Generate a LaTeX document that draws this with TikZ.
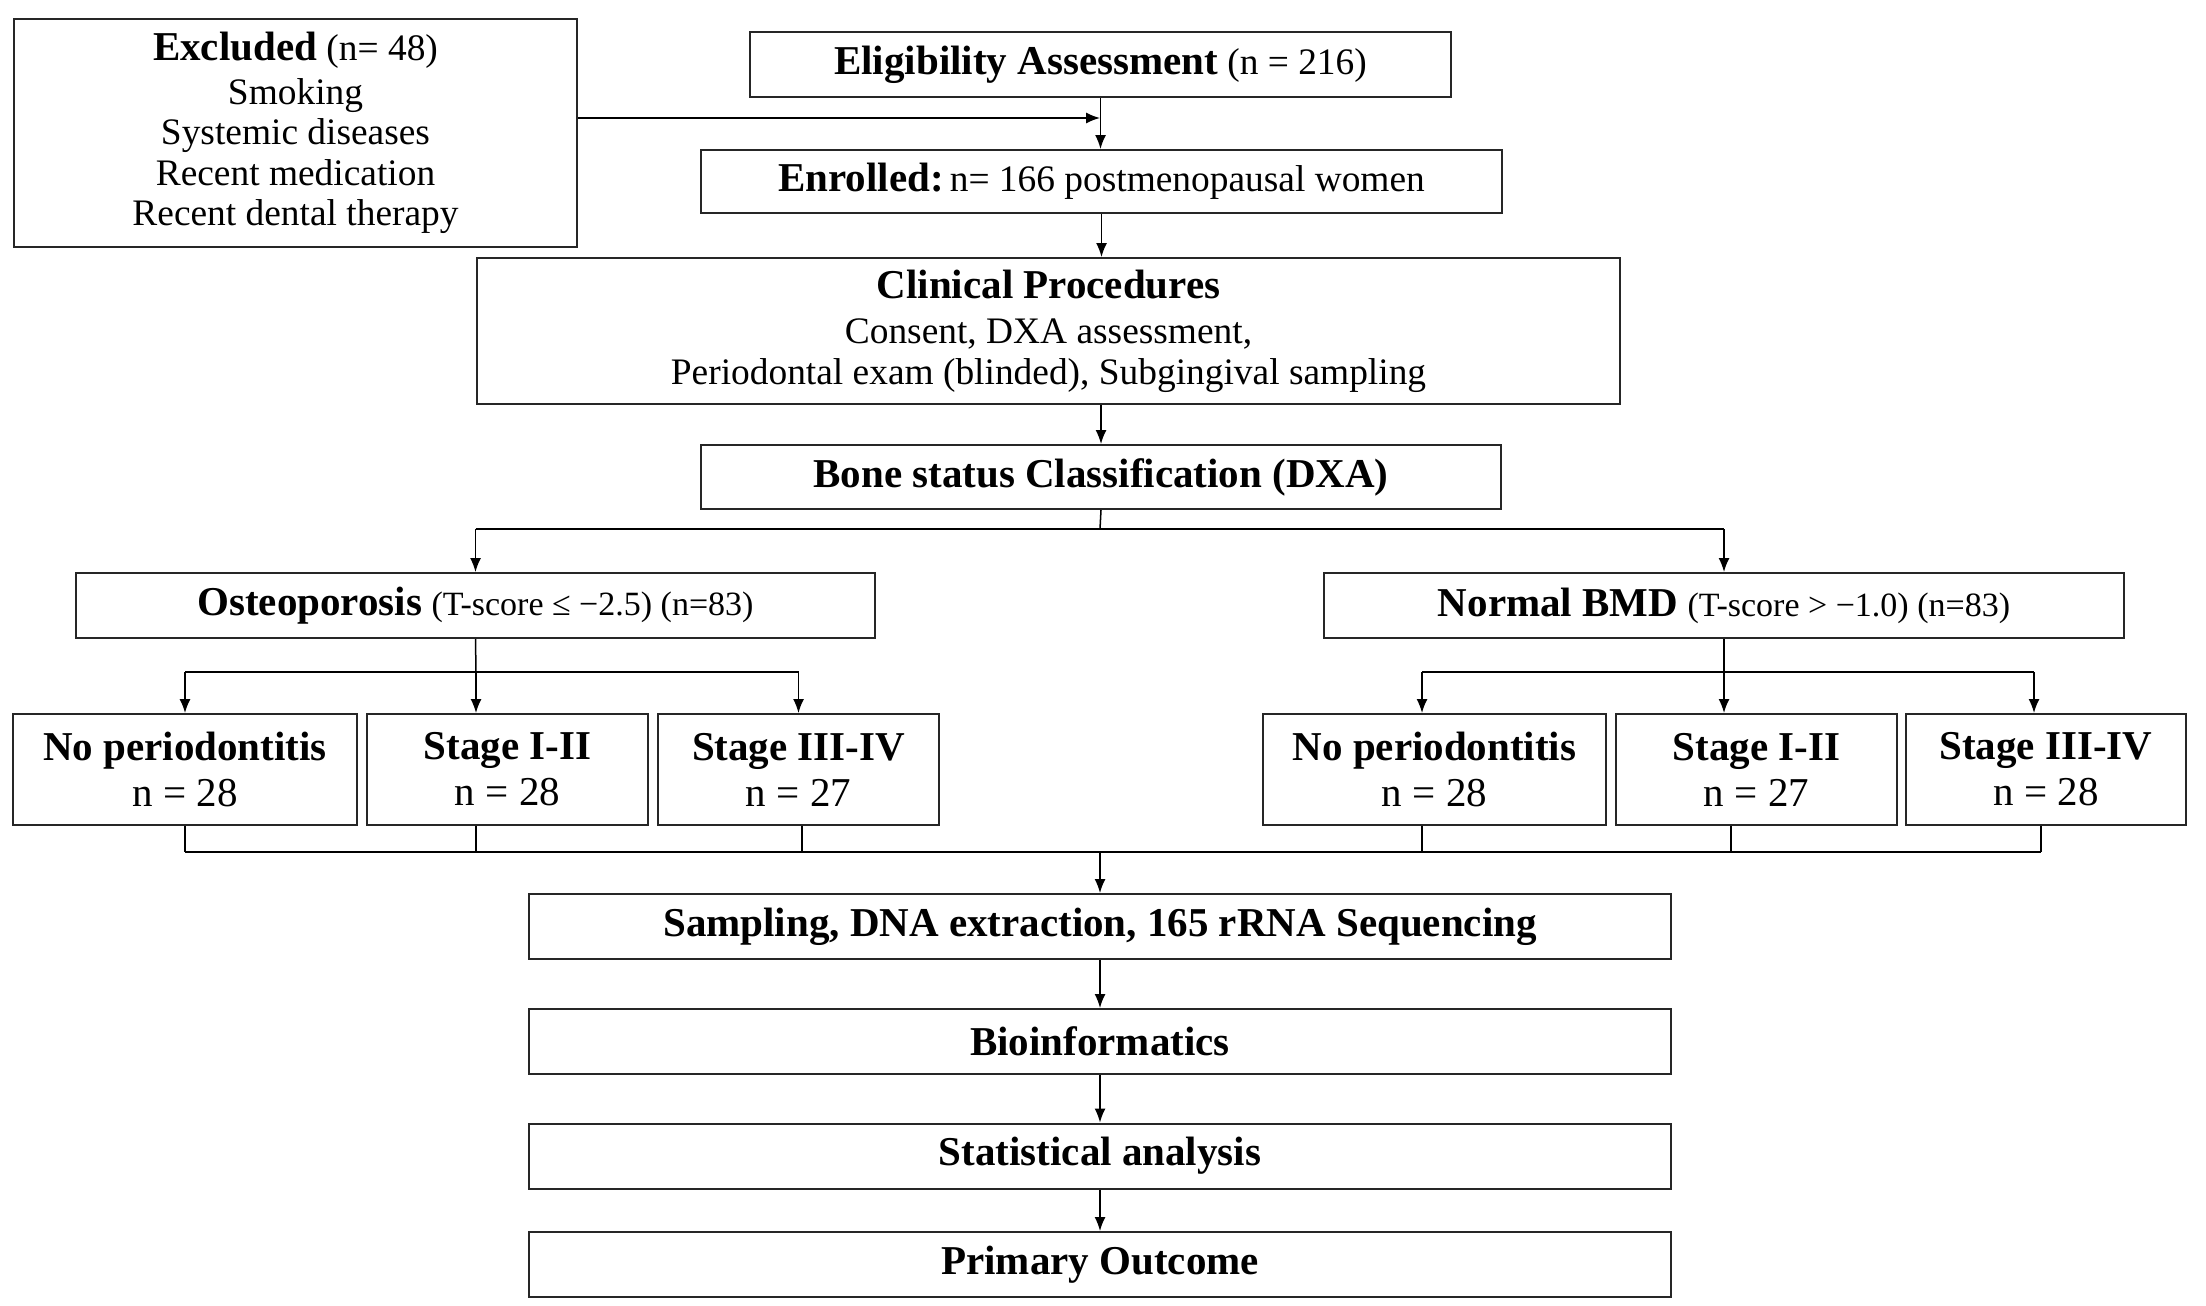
\documentclass[tikz,border=0pt]{standalone}
\usepackage{fontspec}
\setmainfont{Liberation Serif}
\usetikzlibrary{arrows.meta}
\newcommand{\bigfont}{\fontsize{20.5}{23}\selectfont}
\newcommand{\regfont}{\fontsize{18.7}{20.3}\selectfont}
\newcommand{\smallfont}{\fontsize{17}{20}\selectfont}
\tikzset{
	box/.style={draw=black!85, line width=1pt, rectangle, align=center, inner sep=0pt, font=\regfont},
	conn/.style={line width=0.75pt},
	arr/.style={conn, -{Latex[length=7pt,width=5.5pt]}},
	branch/.style={line width=1.1pt},
}

\begin{document}
\begin{tikzpicture}[x=0.5pt, y=-0.5pt]
			%%%%% START %%%%%
			\useasboundingbox (0,0) rectangle (2206,1306);
			
			\node[box, minimum width=281.5pt, minimum height=114pt] (excl) at (295.5,133) {{\bigfont\bfseries Excluded} (n= 48)\\[1.5pt]Smoking\\Systemic diseases\\Recent medication\\Recent dental therapy};
			\node[box, minimum width=350.5pt, minimum height=32.5pt] (elig) at (1100.5,64.5) {{\bigfont\bfseries Eligibility Assessment} (n = 216)};
			\node[box, minimum width=400.5pt, minimum height=31.5pt] (enrol) at (1101.5,181.5) {{\bigfont\bfseries Enrolled:}\,n= 166 postmenopausal women};
			\node[box, minimum width=571.5pt, minimum height=73pt] (clin) at (1048.5,331) {{\bigfont\bfseries Clinical Procedures}\\[2.5pt]Consent, DXA assessment,\\Periodontal exam (blinded), Subgingival sampling};
			\node[box, minimum width=400pt, minimum height=32pt, font=\bigfont\bfseries] (bone) at (1101,477) {Bone status Classification (DXA)};
			
			\node[box, minimum width=399.5pt, minimum height=32.5pt] (osteo) at (475.5,605.5) {{\bigfont\bfseries Osteoporosis} {\smallfont(T-score ≤ −2.5) (n=83)}};
			\node[box, minimum width=400pt, minimum height=32.5pt] (normal) at (1724,605.5) {{\bigfont\bfseries Normal BMD} {\smallfont(T-score > −1.0) (n=83)}};
			
			\node[box, minimum width=172pt, minimum height=55.5pt, font=\bigfont] (o1) at (185,769.5) {\textbf{No periodontitis}\\n = 28};
			\node[box, minimum width=140.5pt, minimum height=55.5pt, font=\bigfont] (o2) at (507.5,769.5) {\textbf{Stage I-II}\\n = 28};
			\node[box, minimum width=140.5pt, minimum height=55.5pt, font=\bigfont] (o3) at (798.5,769.5) {\textbf{Stage III-IV}\\n = 27};
			\node[box, minimum width=171.5pt, minimum height=55.5pt, font=\bigfont] (n1) at (1434.5,769.5) {\textbf{No periodontitis}\\n = 28};
			\node[box, minimum width=140.5pt, minimum height=55.5pt, font=\bigfont] (n2) at (1756.5,769.5) {\textbf{Stage I-II}\\n = 27};
			\node[box, minimum width=140pt, minimum height=55.5pt, font=\bigfont] (n3) at (2046,769.5) {\textbf{Stage III-IV}\\n = 28};
			
			\node[box, minimum width=571pt, minimum height=32.5pt, font=\bigfont\bfseries] (seq) at (1100,926.5) {Sampling, DNA extraction, 165 rRNA Sequencing};
			\node[box, minimum width=571pt, minimum height=32.5pt, font=\bigfont\bfseries] (bio) at (1100,1041.5) {Bioinformatics};
			\node[box, minimum width=571pt, minimum height=32.5pt, font=\bigfont\bfseries] (stat) at (1100,1156) {Statistical analysis};
			\node[box, minimum width=571pt, minimum height=32.5pt, font=\bigfont\bfseries] (prim) at (1100,1264.5) {Primary Outcome};
			
			\coordinate (exjoin) at (1100,118);
			\coordinate (bonesplit) at (1100,529);
			\coordinate (ossplit) at (476,672);
			\coordinate (nmsplit) at (1724,672);
			\coordinate (merge) at (1101,852);
			
			\draw[arr] (elig.south) -- (elig.south |- enrol.north);
			\draw[arr] (excl.east |- exjoin) -- (exjoin);
			\draw[arr] (enrol.south) -- (enrol.south |- clin.north);
			\draw[arr] (bone.north |- clin.south) -- (bone.north);
			
			\draw[conn] (bone.south) -- (bonesplit);
			\draw[branch] (osteo.north |- bonesplit) -- (normal.north |- bonesplit);
			\draw[arr] (osteo.north |- bonesplit) -- (osteo.north);
			\draw[arr] (normal.north |- bonesplit) -- (normal.north);
			
			\draw[conn] (osteo.south) -- (ossplit);
			\draw[branch] (o1.north |- ossplit) -- (o3.north |- ossplit);
			\draw[arr] (o1.north |- ossplit) -- (o1.north);
			\draw[arr] (ossplit) -- (ossplit |- o2.north);
			\draw[arr] (o3.north |- ossplit) -- (o3.north);
			
			\draw[conn] (normal.south) -- (nmsplit);
			\draw[conn] ([xshift=-6.25pt]n1.north |- nmsplit) -- ([xshift=-6pt]n3.north |- nmsplit);
			\draw[arr] ([xshift=-6.25pt]n1.north |- nmsplit) -- ([xshift=-6.25pt]n1.north);
			\draw[arr] (nmsplit) -- (nmsplit |- n2.north);
			\draw[arr] ([xshift=-6pt]n3.north |- nmsplit) -- ([xshift=-6pt]n3.north);
			
			\draw[conn] (o1.south) -- (o1.south |- merge);
			\draw[conn] (ossplit |- o2.south) -- (ossplit |- merge);
			\draw[conn] ([xshift=1.75pt]o3.south) -- ([xshift=1.75pt]o3.south |- merge);
			\draw[conn] ([xshift=-6.25pt]n1.south) -- ([xshift=-6.25pt]n1.south |- merge);
			\draw[conn] ([xshift=3.5pt]nmsplit |- n2.south) -- ([xshift=3.5pt]nmsplit |- merge);
			\draw[conn] ([xshift=-2.5pt]n3.south) -- ([xshift=-2.5pt]n3.south |- merge);
			\draw[branch] (o1.south |- merge) -- ([xshift=-2.5pt]n3.south |- merge);
			
			\draw[arr] (seq.north |- merge) -- (seq.north);
			\draw[arr] (seq.south) -- (bio.north);
			\draw[arr] (bio.south) -- (stat.north);
			\draw[arr] (stat.south) -- (prim.north);
			
			%%%%% END %%%%%
\end{tikzpicture}
\end{document}
